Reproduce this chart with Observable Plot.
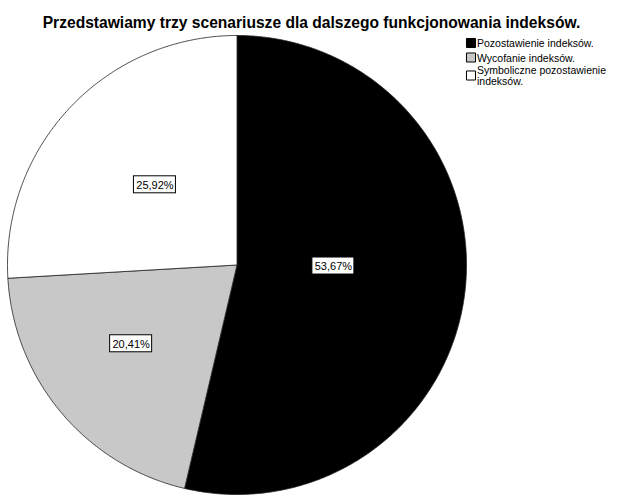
<!DOCTYPE html>
<html>
<head>
<meta charset="utf-8">
<script src="https://cdn.jsdelivr.net/npm/d3@7"></script>
<script src="https://cdn.jsdelivr.net/npm/@observablehq/plot@0.6"></script>
<style>
  html, body { margin: 0; padding: 0; background: #fff; }
  #chart svg { display: block; font-family: "Liberation Sans", Arial, sans-serif; }
</style>
</head>
<body>
<div id="chart"></div>
<script>
// ---- data ----
const title = "Przedstawiamy trzy scenariusze dla dalszego funkcjonowania indeksów.";
const categories = ["Pozostawienie indeksów.", "Wycofanie indeksów.", "Symboliczne pozostawienie indeksów."];
const legendLabels = ["Pozostawienie indeksów.", "Wycofanie indeksów.", "Symboliczne pozostawienie\nindeksów."];
const values = [53.67, 20.41, 25.92];
const valueLabels = ["53,67%", "20,41%", "25,92%"];

// ---- styling / layout (not data) ----
const fills = ["#000000", "#c8c8c8", "#ffffff"];
const W = 626, H = 501;
const cx = 236.5, cy = 264.5, R = 229.5;
const labelRadius = [0.42, 0.575, 0.5];
const labelAngleShift = [-6, 3.4, 1].map(d => d * Math.PI / 180);

// ---- build slice polygons through d3.pie ----
const arcs = d3.pie().sort(null).value(d => d.value)(
  categories.map((c, i) => ({category: c, value: values[i], label: valueLabels[i], i}))
);
const polys = [];
const labelPts = [];
for (const a of arcs) {
  const c = a.data.category;
  polys.push({category: c, x: 0, y: 0});
  const n = Math.max(2, Math.ceil((a.endAngle - a.startAngle) / 0.01));
  for (let k = 0; k <= n; k++) {
    const t = a.startAngle + (a.endAngle - a.startAngle) * k / n;
    polys.push({category: c, x: Math.sin(t), y: Math.cos(t)});
  }
  polys.push({category: c, x: 0, y: 0});
  const mid = (a.startAngle + a.endAngle) / 2 + labelAngleShift[a.data.i];
  const f = labelRadius[a.data.i];
  labelPts.push({label: a.data.label, x: f * Math.sin(mid), y: f * Math.cos(mid)});
}

const legendMarks = [];
const rowCenters = [42.5, 57, 75];
categories.forEach((c, i) => {
  legendMarks.push(Plot.dot([c], {
    frameAnchor: "top-left", dx: 470.5, dy: rowCenters[i],
    symbol: "square", r: 5.1, fill: fills[i], stroke: "#000", strokeWidth: 1
  }));
  legendMarks.push(Plot.text([legendLabels[i]], {
    frameAnchor: "top-left", dx: 476.5, dy: rowCenters[i] + 0.5,
    text: d => d, textAnchor: "start", lineAnchor: "middle",
    fontSize: 10.5, lineHeight: 1.1, fill: "#000"
  }));
});

const chart = Plot.plot({
  width: W, height: H,
  margin: 0,
  x: {domain: [-1, 1], range: [cx - R, cx + R], axis: null},
  y: {domain: [-1, 1], range: [cy + R, cy - R], axis: null},
  color: {domain: categories, range: fills},
  style: {background: "#fff", fontFamily: "'Liberation Sans', Arial, sans-serif"},
  marks: [
    Plot.line(polys, {x: "x", y: "y", z: "category", fill: "category", stroke: "#222", strokeWidth: 0.8, curve: "linear"}),
    Plot.rect(labelPts, {x1: "x", x2: "x", y1: "y", y2: "y",
      insetLeft: -21, insetRight: -21, insetTop: -8.5, insetBottom: -8.5,
      fill: "#fff", stroke: "#000", strokeWidth: 1}),
    Plot.text(labelPts, {x: "x", y: "y", text: "label", fontSize: 11, fill: "#000", dy: 0.5}),
    Plot.text([title], {frameAnchor: "top", dx: -2, dy: 16.5, text: d => d, lineAnchor: "top",
      fontSize: 15.6, fontWeight: "bold", fill: "#000"}),
    ...legendMarks
  ]
});
document.getElementById("chart").appendChild(chart);
</script>
</body>
</html>
